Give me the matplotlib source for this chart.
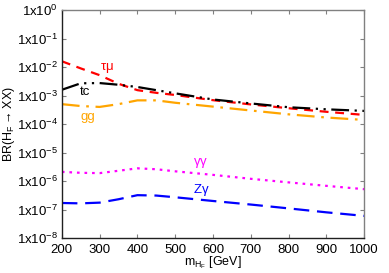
import matplotlib
matplotlib.use("Agg")
import matplotlib.pyplot as plt

plt.rcParams['font.family'] = ['Liberation Sans', 'DejaVu Sans']
plt.rcParams['mathtext.default'] = 'regular'

mass = [200, 250, 300, 350, 400, 450, 500, 600, 700, 800, 900, 1000]
br_taumu = [1.6e-2, 9.0e-3, 5.2e-3, 2.6e-3, 1.55e-3, 1.25e-3, 1.05e-3, 6.9e-4, 4.9e-4, 3.6e-4, 2.7e-4, 2.1e-4]
br_tc = [1.6e-3, 2.7e-3, 2.75e-3, 2.4e-3, 2.0e-3, 1.55e-3, 1.2e-3, 7.3e-4, 5.3e-4, 3.9e-4, 3.3e-4, 2.9e-4]
br_gg = [5.0e-4, 4.3e-4, 4.0e-4, 5.0e-4, 6.8e-4, 6.8e-4, 5.6e-4, 4.1e-4, 3.0e-4, 2.2e-4, 1.7e-4, 1.4e-4]
br_aa = [2.1e-6, 1.95e-6, 1.9e-6, 2.3e-6, 2.8e-6, 2.6e-6, 2.2e-6, 1.65e-6, 1.2e-6, 9.0e-7, 6.8e-7, 5.2e-7]
br_za = [1.7e-7, 1.65e-7, 1.75e-7, 2.3e-7, 3.2e-7, 3.1e-7, 2.7e-7, 2.0e-7, 1.5e-7, 1.1e-7, 8.0e-8, 6.0e-8]

ytick_vals = [1e0, 1e-1, 1e-2, 1e-3, 1e-4, 1e-5, 1e-6, 1e-7, 1e-8]
ytick_labels = ['1x10$^{0}$', '1x10$^{-1}$', '1x10$^{-2}$', '1x10$^{-3}$', '1x10$^{-4}$',
                '1x10$^{-5}$', '1x10$^{-6}$', '1x10$^{-7}$', '1x10$^{-8}$']
xticks = [200, 300, 400, 500, 600, 700, 800, 900, 1000]

fig = plt.figure(figsize=(3.89, 2.73), dpi=100)
ax = fig.add_axes([0.159, 0.128, 0.777, 0.835])

lw = 1.6
ax.plot(mass, br_taumu, color='red', lw=lw, dashes=(4, 3))
ax.plot(mass, br_tc, color='black', lw=lw, dashes=(8, 2.5, 1, 2.5, 1, 2.5))
ax.plot(mass, br_gg, color='#ffa500', lw=lw, dashes=(8, 3, 1.2, 3))
ax.plot(mass, br_aa, color='magenta', lw=lw, dashes=(1.2, 2.2))
ax.plot(mass, br_za, color='blue', lw=lw, dashes=(7, 3.5))

fs = 9.5
ax.text(319, 9.2e-3, r'$\tau\mu$', color='red', fontsize=fs, ha='center', va='center')
ax.text(261, 1.3e-3, 'tc', color='black', fontsize=fs, ha='center', va='center')
ax.text(269, 1.8e-4, 'gg', color='#ffa500', fontsize=fs, ha='center', va='center')
ax.text(566, 4.3e-6, r'$\gamma\gamma$', color='magenta', fontsize=fs, ha='center', va='center')
ax.text(568, 4.8e-7, r'Z$\gamma$', color='blue', fontsize=fs, ha='center', va='center')

ax.set_yscale('log')
ax.set_xlim(200, 1000)
ax.set_ylim(1e-8, 1e0)
ax.set_yticks(ytick_vals)
ax.set_yticklabels(ytick_labels)
ax.minorticks_off()
ax.set_xticks(xticks)
ax.tick_params(direction='in', top=True, right=True, labelsize=fs, length=3,
               color='#808080')
ax.tick_params(axis='x', pad=4.5)
ax.tick_params(axis='y', pad=3)

for side in ['top', 'right']:
    ax.spines[side].set_color('#808080')
for side in ['left', 'bottom']:
    ax.spines[side].set_color('#202020')
for s in ax.spines.values():
    s.set_linewidth(1.0)

ax.set_xlabel('m$_{H_F}$ [GeV]', fontsize=9, labelpad=-1)
ax.set_ylabel(r'BR(H$_F$$\rightarrow$XX)', fontsize=9, labelpad=0)

fig.savefig('out.png', dpi=100)
